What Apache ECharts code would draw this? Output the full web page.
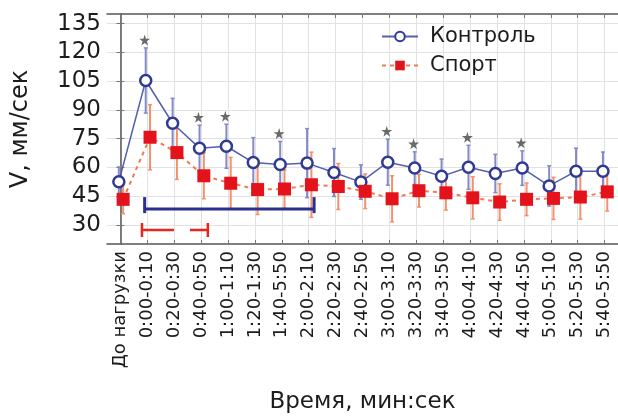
<!DOCTYPE html>
<html>
<head>
<meta charset="utf-8">
<script src="https://cdn.jsdelivr.net/npm/echarts@6/dist/echarts.min.js"></script>
<style>
  html, body { margin: 0; padding: 0; background: #fff; }
  #chart { width: 618px; height: 419px; }
</style>
</head>
<body>
<div id="chart"></div>
<script>
// интервалы времени
const categories = ['До нагрузки', '0:00-0:10', '0:20-0:30', '0:40-0:50', '1:00-1:10', '1:20-1:30',
  '1:40-5:50', '2:00-2:10', '2:20-2:30', '2:40-2:50', '3:00-3:10', '3:20-3:30', '3:40-3:50',
  '4:00-4:10', '4:20-4:30', '4:40-4:50', '5:00-5:10', '5:20-5:30', '5:40-5:50'];

// Контроль: среднее и половина разброса
const controlMean = [52.5, 105.3, 83, 70, 71, 62.5, 61.5, 62.2, 57.3, 52.3, 62.7, 59.6, 55.3, 60, 56.8, 59.6, 50.3, 58, 58];
const controlErr  = [7.7, 17, 13, 12, 11.5, 13, 12, 18, 12.5, 9, 12, 8.5, 9, 11.5, 10, 9, 10.5, 12, 10];

// Спорт
const sportMean = [43.3, 75.7, 67.7, 55.6, 51.7, 48.4, 48.7, 50.9, 50, 47.5, 43.6, 47.8, 46.7, 44.1, 41.9, 43.3, 43.8, 44.5, 47.2];
const sportErr  = [7.5, 17, 14, 12, 13.5, 13, 10, 17, 12, 9, 12, 8.5, 9, 11, 9.5, 8.5, 11, 11.5, 10];

// достоверные различия (звёздочки)
const starIdx = [1, 3, 4, 6, 10, 11, 13, 15];

// скобки значимости: [от, до, уровень]
const bracketControl = [0.9, 7.2, 38.2];
const bracketSport = [0.8, 3.25, 27.3];

const yTicks = [30, 45, 60, 75, 90, 105, 120, 135];

const FONT = 'DejaVu Sans, Verdana, sans-serif';
const TXT = '#1c1c1c';
const BLUE = '#2f3a92';
const BLUE_LINE = '#5560ad';
const BLUE_ERR = '#8389c9';
const RED = '#e3121b';
const RED_LINE = '#f07a52';
const RED_ERR = '#f3916c';

const idx = categories.map((c, i) => i);
const dxBlue = -0.06;
const dxRed = 0.1;

function errorBars(color) {
  return function (params, api) {
    const x = api.value(0);
    const top = api.coord([x, api.value(2)]);
    const bot = api.coord([x, api.value(1)]);
    return {
      type: 'group',
      children: [
        { type: 'line', shape: { x1: top[0], y1: top[1], x2: bot[0], y2: bot[1] }, style: { stroke: color, lineWidth: 2 } },
        { type: 'line', shape: { x1: top[0] - 2, y1: top[1], x2: top[0] + 2, y2: top[1] }, style: { stroke: color, lineWidth: 1.5 } },
        { type: 'line', shape: { x1: bot[0] - 2, y1: bot[1], x2: bot[0] + 2, y2: bot[1] }, style: { stroke: color, lineWidth: 1.5 } }
      ]
    };
  };
}

function bracket(color, dash, capUp, capDown, width) {
  return function (params, api) {
    const a = api.coord([api.value(0), api.value(2)]);
    const b = api.coord([api.value(1), api.value(2)]);
    return {
      type: 'group',
      children: [
        { type: 'line', shape: { x1: a[0], y1: a[1], x2: b[0], y2: b[1] }, style: { stroke: color, lineWidth: width, lineDash: dash } },
        { type: 'line', shape: { x1: a[0], y1: a[1] - capUp, x2: a[0], y2: a[1] + capDown }, style: { stroke: color, lineWidth: width } },
        { type: 'line', shape: { x1: b[0], y1: b[1] - capUp, x2: b[0], y2: b[1] + capDown }, style: { stroke: color, lineWidth: width } }
      ]
    };
  };
}

const chart = echarts.init(document.getElementById('chart'), null, { renderer: 'canvas' });

const option = {
  animation: false,
  textStyle: { fontFamily: FONT },
  grid: { left: 107, right: 0, top: 14, height: 237 },
  legend: {
    left: 381,
    top: 26,
    padding: 0,
    orient: 'vertical',
    itemWidth: 36,
    itemHeight: 12,
    itemGap: 8,
    data: ['Контроль', 'Спорт'],
    textStyle: { fontSize: 21, color: TXT, fontFamily: FONT, padding: [0, 0, 0, 7] }
  },
  xAxis: [
    {
      type: 'value',
      min: -0.5,
      max: 18.5,
      position: 'bottom',
      name: 'Время, мин:сек',
      nameLocation: 'middle',
      nameGap: 147,
      nameTextStyle: { fontSize: 23, color: TXT, fontFamily: FONT },
      axisLine: { show: true, lineStyle: { color: '#555', width: 1.5 } },
      axisTick: { show: true, inside: true, length: 4, customValues: idx, lineStyle: { color: '#777' } },
      axisLabel: {
        customValues: idx,
        rotate: 90,
        fontSize: 18,
        color: TXT,
        margin: 7,
        formatter: function (v) { return categories[Math.round(v)]; }
      },
      splitLine: { show: true, lineStyle: { color: '#e2e2e2', width: 1 } }
    },
    {
      type: 'value',
      min: -0.5,
      max: 18.5,
      position: 'top',
      axisLine: { show: true, lineStyle: { color: '#555', width: 1.5 } },
      axisTick: { show: true, inside: true, length: 4, customValues: idx, lineStyle: { color: '#777' } },
      axisLabel: { show: false },
      splitLine: { show: false }
    }
  ],
  yAxis: [
    {
      type: 'value',
      min: 20,
      max: 140,
      position: 'left',
      name: 'V, мм/сек',
      nameLocation: 'middle',
      nameRotate: 90,
      nameGap: 74,
      nameTextStyle: { fontSize: 24, color: TXT, fontFamily: FONT },
      axisLine: { show: true, lineStyle: { color: '#555', width: 1.5 } },
      axisTick: { show: true, inside: true, length: 4, customValues: yTicks, lineStyle: { color: '#777' } },
      axisLabel: { customValues: yTicks, fontSize: 23, color: TXT, margin: 6 },
      splitLine: { show: true, lineStyle: { color: '#e2e2e2', width: 1 } }
    },
    {
      type: 'value',
      min: 20,
      max: 140,
      position: 'right',
      axisLine: { show: false },
      axisTick: { show: true, inside: true, length: 4, customValues: yTicks, lineStyle: { color: '#777' } },
      axisLabel: { show: false },
      splitLine: { show: false }
    }
  ],
  series: [
    {
      name: 'errControl',
      type: 'custom',
      z: 1,
      renderItem: errorBars(BLUE_ERR),
      data: controlMean.map((m, i) => [i + dxBlue, m - controlErr[i], m + controlErr[i]])
    },
    {
      name: 'errSport',
      type: 'custom',
      z: 2,
      renderItem: errorBars(RED_ERR),
      data: sportMean.map((m, i) => [i + dxRed, m - sportErr[i], m + sportErr[i]])
    },
    {
      name: 'Контроль',
      type: 'line',
      z: 3,
      symbol: 'circle',
      symbolSize: 11,
      lineStyle: { color: BLUE_LINE, width: 1.5 },
      itemStyle: { color: '#fff', borderColor: BLUE, borderWidth: 2.5 },
      data: controlMean.map((m, i) => [i + dxBlue, m])
    },
    {
      name: 'Спорт',
      type: 'line',
      z: 4,
      symbol: 'rect',
      symbolSize: 13,
      lineStyle: { color: RED_LINE, width: 2, type: [4, 4] },
      itemStyle: { color: RED },
      data: sportMean.map((m, i) => [i + dxRed, m])
    },
    {
      name: 'stars',
      type: 'scatter',
      z: 5,
      symbol: 'path://M50,0 L61,35 L98,35 L68,57 L79,91 L50,70 L21,91 L32,57 L2,35 L39,35 Z',
      symbolSize: 11,
      symbolOffset: [0, -8],
      itemStyle: { color: '#444' },
      data: starIdx.map(i => [i - 0.1, controlMean[i] + controlErr[i]])
    },
    {
      name: 'brControl',
      type: 'custom',
      z: 6,
      renderItem: bracket('#2b2f8f', null, 12, 4, 3),
      data: [bracketControl]
    },
    {
      name: 'brSport',
      type: 'custom',
      z: 6,
      renderItem: bracket('#e8261c', [32, 16], 7, 7, 2.5),
      data: [bracketSport]
    }
  ]
};

chart.setOption(option);
</script>
</body>
</html>
